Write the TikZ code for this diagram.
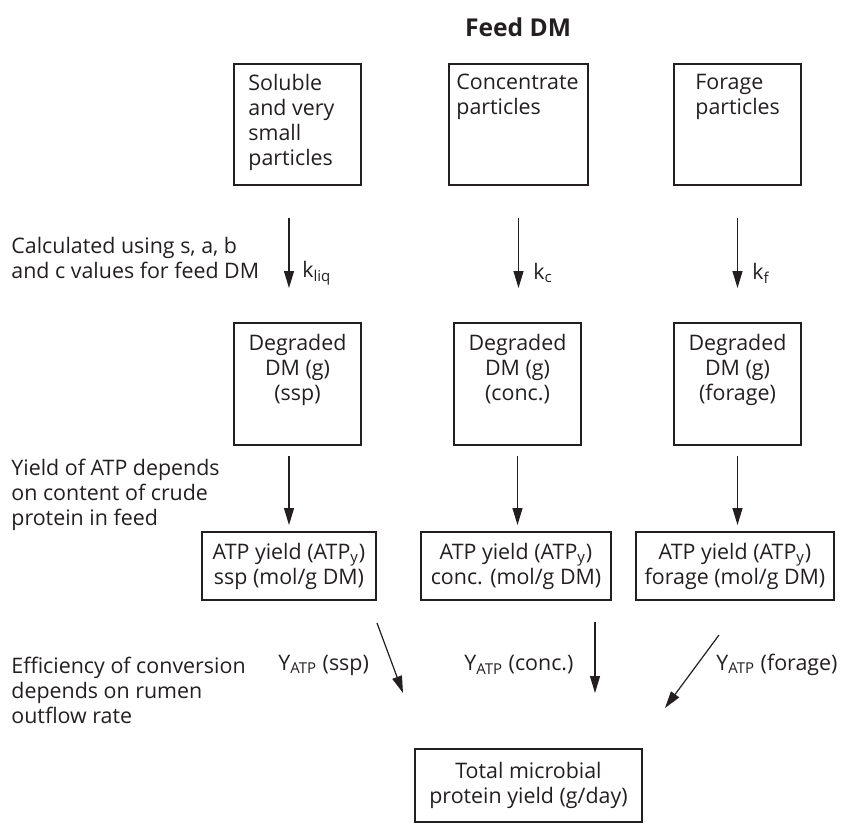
\documentclass[tikz,border=0pt]{standalone}
\usepackage{fontspec}
\setmainfont{Open Sans}
\usetikzlibrary{arrows.meta, positioning}
\definecolor{ink}{HTML}{231F20}

\begin{document}
\begin{tikzpicture}[x=0.5pt, y=-0.5pt,
        every node/.style={text=ink, font=\fontsize{10.7}{12.5}\selectfont},
        b/.style={rectangle, draw=ink, line width=1pt, inner sep=0pt},
        t/.style={inner sep=0pt, align=left},
        tc/.style={inner sep=0pt, align=center},
        arr/.style={-{Triangle[length=8.5pt,width=5pt]}, line width=0.6pt, draw=ink}]
  \useasboundingbox (0,0) rectangle (845,824);
  \node[font=\fontsize{12.3}{14}\selectfont\bfseries] (title) at (518,27) {Feed DM};

  % feed fractions
  \node[b, minimum width=63.5pt, minimum height=60.5pt] (s1) at (297.5,124.5) {};
  \node[b, minimum width=69.5pt, minimum height=60.5pt] (s2) at (518.5,124.5) {};
  \node[b, minimum width=63.5pt, minimum height=60.5pt] (s3) at (737.5,124.5) {};
  \node[t, below right=5.5pt and 7.5pt of s1.north west] (s1txt) {Soluble\\and very\\small\\particles};
  \node[t, below right=5.5pt and 4pt of s2.north west] (s2txt) {Concentrate\\particles};
  \node[t, below right=5.5pt and 11pt of s3.north west] (s3txt) {Forage\\particles};

  % degraded DM
  \node[b, minimum width=63.5pt, minimum height=61pt] (d1) at (297.5,384) {};
  \node[b, minimum width=63.5pt, minimum height=61pt] (d2) at (517.5,384) {};
  \node[b, minimum width=63.5pt, minimum height=61pt] (d3) at (737.5,384) {};
  \node[tc, below=6pt of d1.north] (d1txt) {Degraded\\DM (g)\\(ssp)};
  \node[tc, below=6pt of d2.north] (d2txt) {Degraded\\DM (g)\\(conc.)};
  \node[tc, below=6pt of d3.north] (d3txt) {Degraded\\DM (g)\\(forage)};

  % ATP yield
  \node[b, tc, minimum width=87pt, minimum height=34pt] (a1) at (289,566) {ATP yield (ATP\textsubscript{y})\\ssp (mol/g DM)};
  \node[b, tc, minimum width=95pt, minimum height=34pt] (a2) at (516,566) {ATP yield (ATP\textsubscript{y})\\conc. (mol/g DM)};
  \node[b, tc, minimum width=99pt, minimum height=34pt] (a3) at (735,566) {ATP yield (ATP\textsubscript{y})\\forage (mol/g DM)};

  \node[b, tc, minimum width=113.5pt, minimum height=36.5pt] (tot) at (528.5,785.5) {Total microbial\\protein yield (g/day)};

  % notes on the left
  \node[t, anchor=west] (n1) at (11,258) {Calculated using s, a, b\\and c values for feed DM};
  \node[t, anchor=west] (n2) at (11,495) {Yield of ATP depends\\on content of crude\\protein in feed};
  \node[t, anchor=west] (n3) at (11,690) {Efficiency of conversion\\depends on rumen\\outflow rate};

  % rates
  \draw[arr, shorten <=16pt, shorten >=17pt] ([xshift=-4.25pt]s1.south) -- ([xshift=-4.25pt]d1.north);
  \draw[arr, shorten <=16pt, shorten >=17pt] (s2.south) -- (s2.south |- d2.north);
  \draw[arr, shorten <=16pt, shorten >=17pt] (s3.south) -- (s3.south |- d3.north);
  \node[anchor=west, inner sep=0pt] (kliq) at (302,273) {k\textsubscript{liq}};
  \node[anchor=west, inner sep=0pt] (kc) at (533,273) {k\textsubscript{c}};
  \node[anchor=west, inner sep=0pt] (kf) at (752,273) {k\textsubscript{f}};

  \draw[arr, shorten <=5pt, shorten >=3pt] (d1.south -| a1.north) -- (a1.north);
  \draw[arr, shorten <=5pt, shorten >=3pt] (d2.south) -- (d2.south |- a2.north);
  \draw[arr, shorten <=5pt, shorten >=3pt] (d3.south) -- (d3.south |- a3.north);

  % efficiencies
  \coordinate (p1) at (377,623);
  \coordinate (q1) at (403,693);
  \coordinate (p2) at (595,622);
  \coordinate (q2) at (595,693);
  \coordinate (p3) at (719,635);
  \coordinate (q3) at (665,708);
  \draw[arr] (p1) -- (q1);
  \draw[arr] (p2) -- (q2);
  \draw[arr] (p3) -- (q3);
  \node[anchor=west, inner sep=0pt] (y1) at (278,665) {Y\textsubscript{ATP} (ssp)};
  \node[anchor=west, inner sep=0pt] (y2) at (464,665) {Y\textsubscript{ATP} (conc.)};
  \node[anchor=west, inner sep=0pt] (y3) at (716,665) {Y\textsubscript{ATP} (forage)};
\end{tikzpicture}
\end{document}
